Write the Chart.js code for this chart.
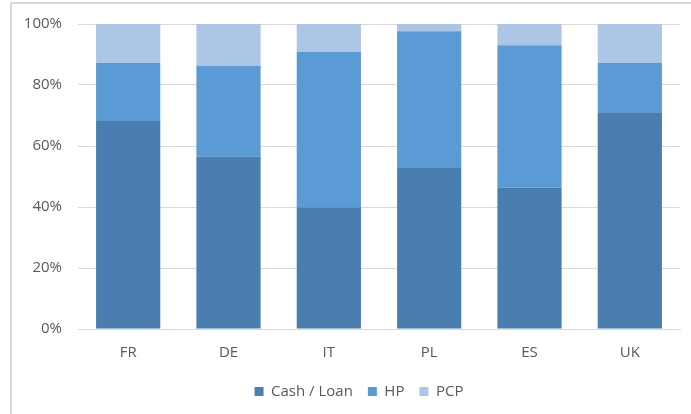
<!DOCTYPE html>
<html>
<head>
<meta charset="utf-8">
<script src="https://cdn.jsdelivr.net/npm/chart.js@4"></script>
<style>
  html, body { margin: 0; padding: 0; background: #fff; overflow: hidden; }
  .frame {
    position: absolute; left: 10px; top: 2px;
    width: 700px; height: 412px;
    border-left: 2px solid #d9d9d9; border-top: 2px solid #d9d9d9;
  }
  .frame canvas { display: block; }
</style>
</head>
<body>
<div class="frame"><canvas id="chart" width="700" height="412"></canvas></div>
<script>
const countries = ['FR', 'DE', 'IT', 'PL', 'ES', 'UK'];
const cashLoan = [68.2, 56.5, 39.9, 52.8, 46.4, 71.1];
const hp = [19.0, 29.8, 51.0, 44.8, 46.6, 16.1];
const pcp = [12.8, 13.7, 9.1, 2.4, 7.0, 12.8];

const textColor = '#595959';
const gridColor = '#d9d9d9';
const font = { family: '"Open Sans", sans-serif', size: 15 };

const ctx = document.getElementById('chart').getContext('2d');
new Chart(ctx, {
	type: 'bar',
	data: {
		labels: countries,
		datasets: [
			{ label: 'Cash / Loan', data: cashLoan, backgroundColor: '#4a7eb0' },
			{ label: 'HP', data: hp, backgroundColor: '#5b9bd5' },
			{ label: 'PCP', data: pcp, backgroundColor: '#adc6e6' },
		],
	},
	options: {
		responsive: false,
		animation: false,
		layout: { padding: { left: 0, right: 6, top: 20, bottom: 7 } },
		datasets: { bar: { categoryPercentage: 1, barPercentage: 0.64 } },
		plugins: {
			tooltip: { enabled: false },
			legend: {
				position: 'bottom',
				labels: {
					color: textColor,
					font: font,
					boxWidth: 9,
					boxHeight: 9,
					padding: 15,
				},
			},
		},
		scales: {
			x: {
				stacked: true,
				grid: { display: false, drawTicks: false },
				border: { color: gridColor, width: 1 },
				ticks: { color: textColor, font: font, padding: 15 },
				afterFit: scale => { scale.height = 40; },
			},
			y: {
				stacked: true,
				min: 0,
				max: 100,
				grid: { color: gridColor, drawTicks: false },
				border: { display: false },
				ticks: {
					stepSize: 20,
					color: textColor,
					font: font,
					padding: 16,
					callback: v => v + '%',
				},
				afterFit: scale => {
					scale.width = 66;
					scale.paddingTop = 0;
					scale.paddingBottom = 0;
				},
			},
			// empty right margin so the legend centres like the original
			spacer: {
				position: 'right',
				grid: { display: false, drawTicks: false },
				border: { display: false },
				ticks: { display: false },
				afterFit: scale => {
					scale.width = 26;
					scale.paddingTop = 0;
					scale.paddingBottom = 0;
				},
			},
		},
	},
});
</script>
</body>
</html>
